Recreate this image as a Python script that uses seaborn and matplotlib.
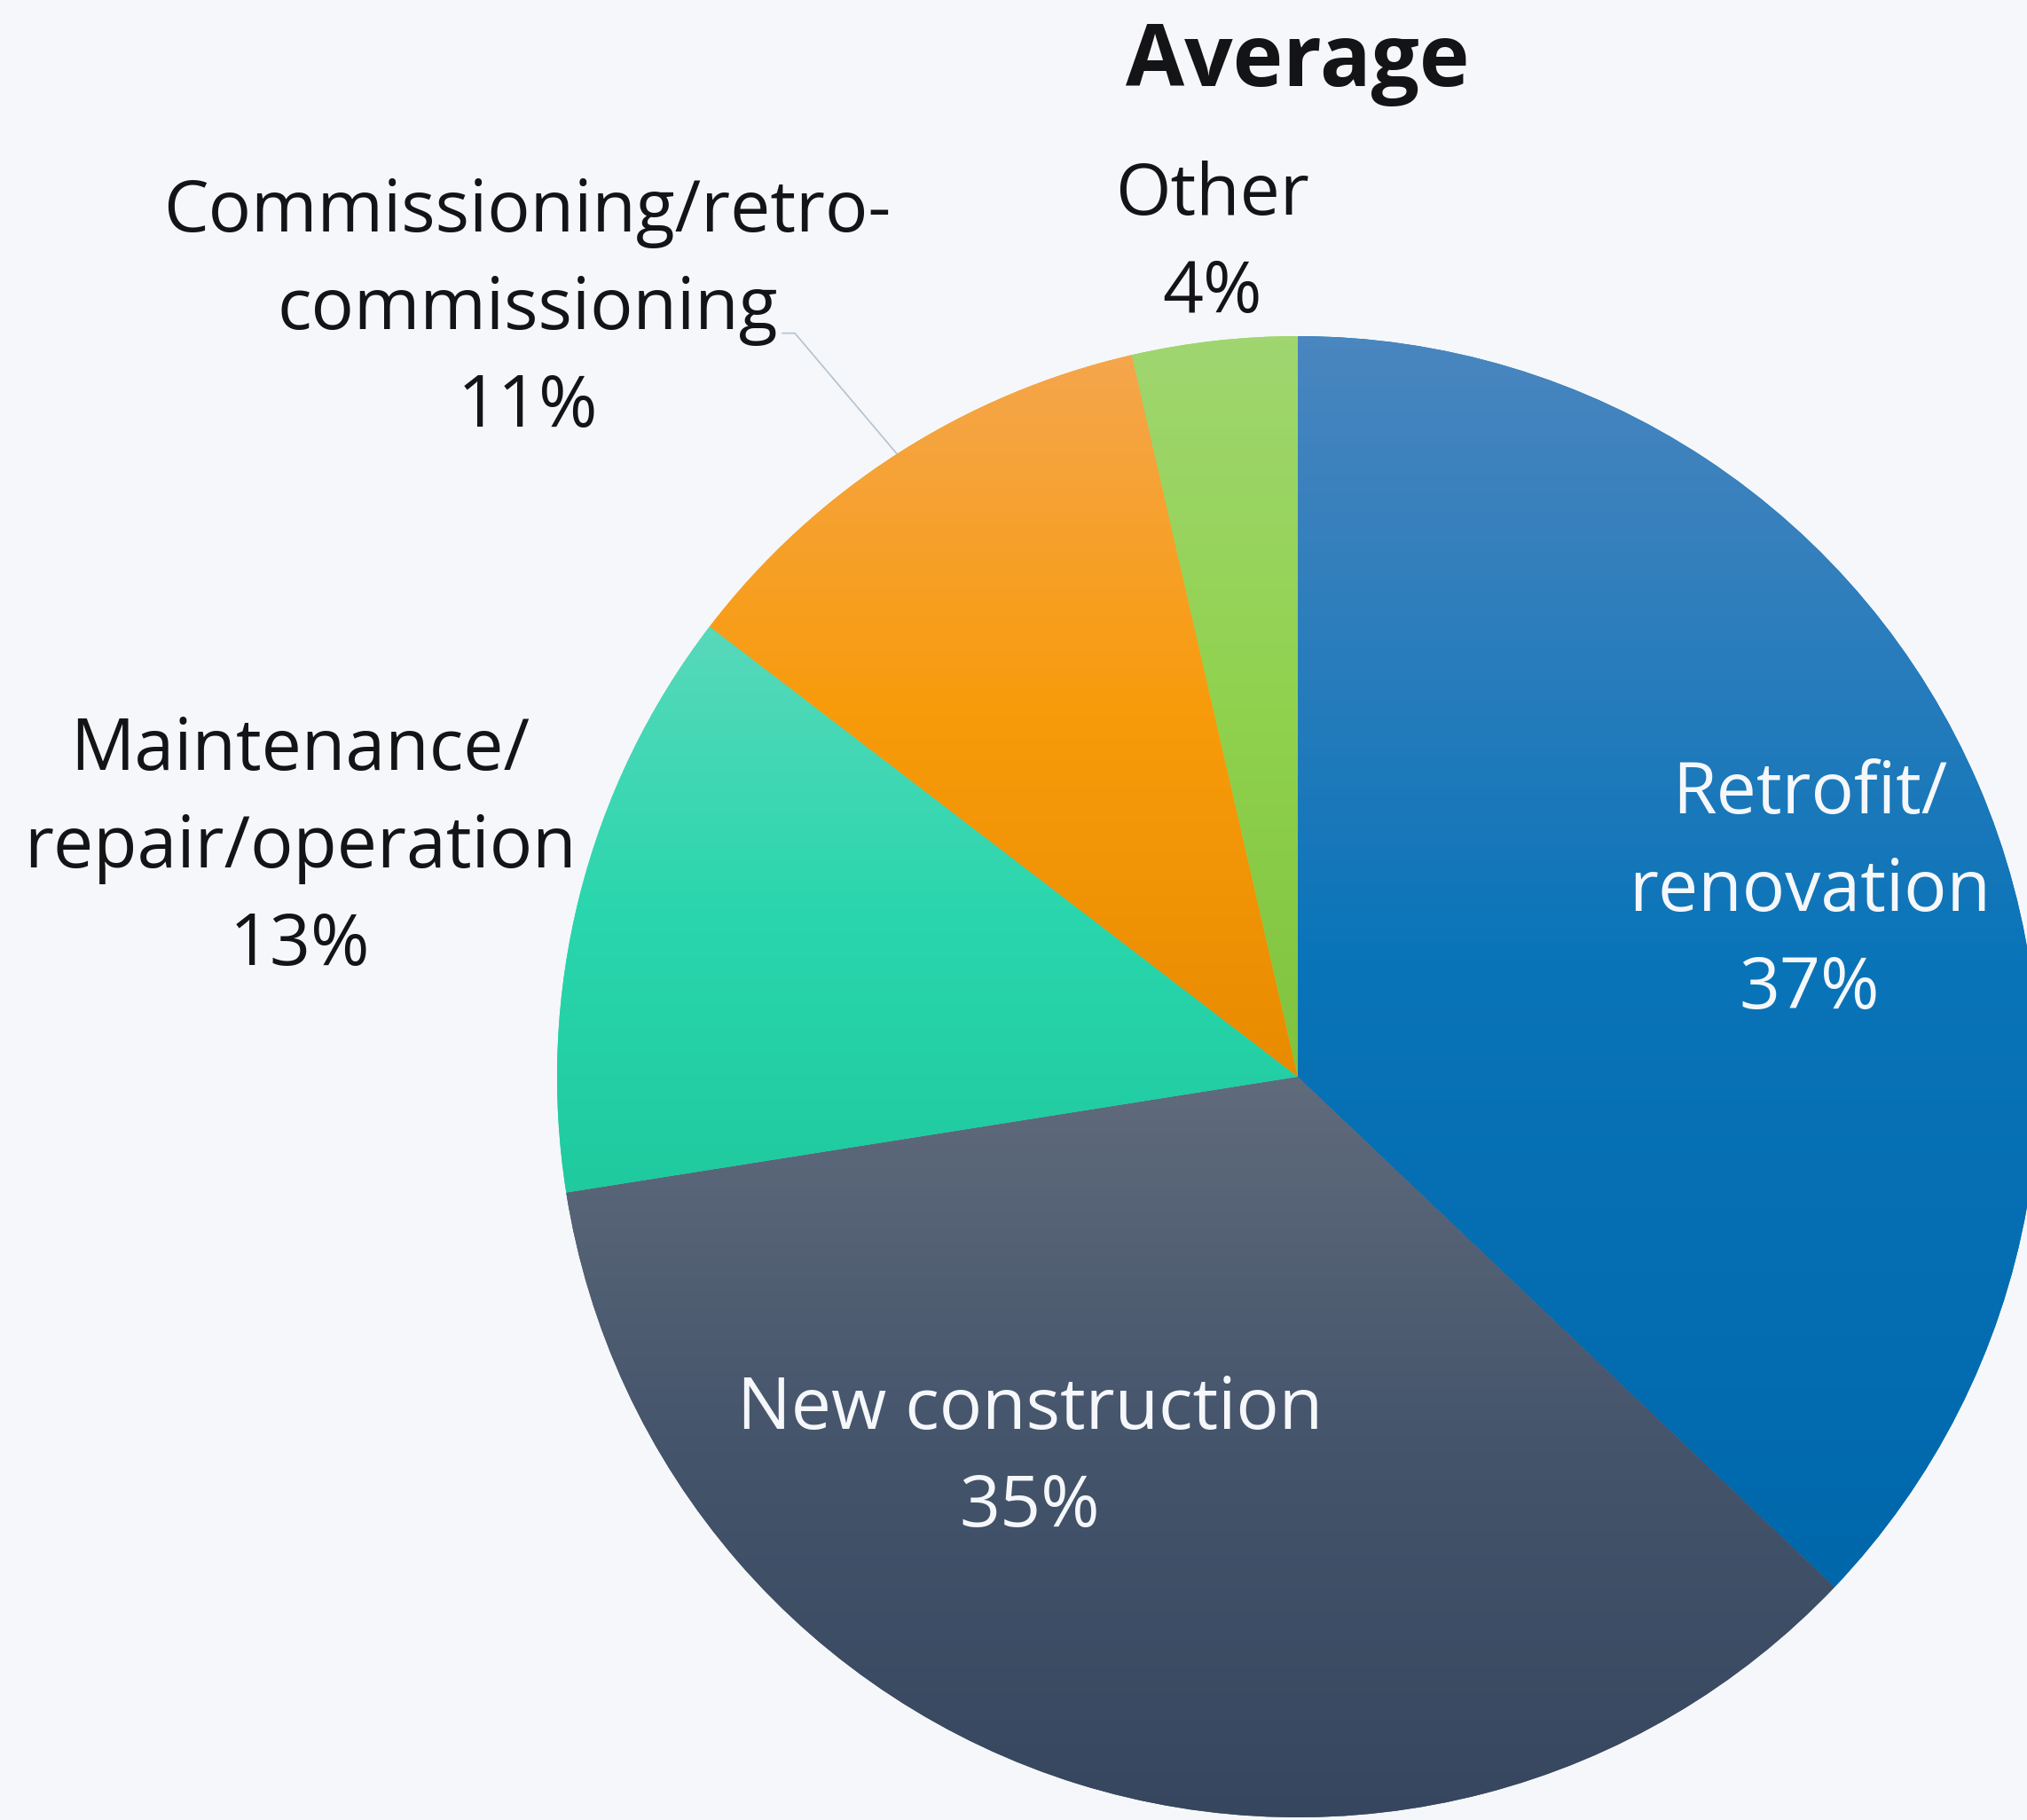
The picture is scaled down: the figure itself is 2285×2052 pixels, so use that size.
import matplotlib.pyplot as plt
import numpy as np
import seaborn as sns

# slice data, clockwise from 12 o'clock
categories = ['Retrofit/\nrenovation', 'New construction',
              'Maintenance/\nrepair/operation',
              'Commissioning/retro-\ncommissioning', 'Other']
shares = [37.1, 35.4, 12.9, 11.0, 3.6]

# light top -> base -> darker bottom
gradients = [
    ['#4a86bf', '#0a74b9', '#0067ab'],
    ['#606b7c', '#44546b', '#36465e'],
    ['#58d9bb', '#2ad6ad', '#1fca9f'],
    ['#f5a64c', '#f89b0a', '#e88b00'],
    ['#a0d670', '#90d24e', '#80c33e'],
]
label_pos = [(0.691, 0.249), (-0.362, -0.516), (-1.347, 0.308),
             (-1.040, 1.035), (-0.115, 1.124)]
label_colors = ['#f5f7fa', '#f5f7fa', '#141416', '#141416', '#141416']

BG = '#f5f7fa'
W, H = 2285, 2052
cx, cy, R = 1463, 1214, 835

sns.set_theme(style='white')
plt.rcParams['font.family'] = ['Open Sans', 'DejaVu Sans']

fig = plt.figure(figsize=(W / 100, H / 100), dpi=100, facecolor=BG)
ax = fig.add_axes([0, 0, 1, 1])
ax.set_facecolor(BG)

wedges, _ = ax.pie(shares, startangle=90, counterclock=False, radius=1,
                   wedgeprops=dict(linewidth=0))

for w, stops in zip(wedges, gradients):
    w.set_facecolor(stops[1])
    cmap = sns.blend_palette(stops, as_cmap=True)
    v = w.get_path().vertices
    grad = np.linspace(0, 1, 256).reshape(-1, 1)
    im = ax.imshow(grad, cmap=cmap, aspect='auto', origin='upper',
                   extent=[v[:, 0].min(), v[:, 0].max(), v[:, 1].min(), v[:, 1].max()],
                   interpolation='bilinear', zorder=w.get_zorder() + 0.1)
    im.set_clip_path(w)

for name, val, (x, y), c in zip(categories, shares, label_pos, label_colors):
    ax.text(x, y, f'{name}\n{round(val)}%', ha='center', va='center',
            fontsize=58, color=c, linespacing=1.48, zorder=5)

# leader line for the commissioning slice
w = wedges[3]
mid = np.deg2rad((w.theta1 + w.theta2) / 2)
ax.plot([np.cos(mid), -0.679, -0.696], [np.sin(mid), 1.004, 1.004],
        color='#b4c2d0', lw=1.2, zorder=4)

ax.text(0, 1.338, 'Average', ha='center', va='baseline', fontsize=69,
        fontweight='bold', color='#141416')

ax.set_xlim(-cx / R, (W - cx) / R)
ax.set_ylim(-(H - cy) / R, cy / R)
ax.set_aspect('auto')
ax.axis('off')

fig.savefig('out.png', dpi=100, facecolor=BG)
